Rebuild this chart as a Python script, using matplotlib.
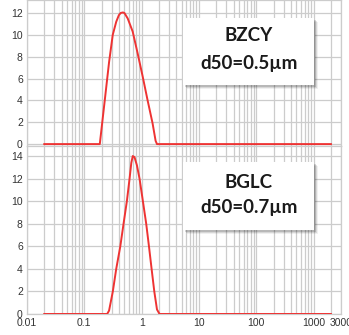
import matplotlib
matplotlib.use("Agg")
import matplotlib.pyplot as plt
import matplotlib.patheffects as pe
from matplotlib.patches import Rectangle
from matplotlib.ticker import LogLocator, FixedLocator, NullFormatter

# particle size distributions (size in um, volume %)
bzcy_size = [0.02, 0.186, 0.227, 0.27, 0.313, 0.36, 0.40, 0.43, 0.47, 0.50,
             0.571, 0.697, 0.851, 1.04, 1.27, 1.55, 1.75, 1.85, 2000]
bzcy_vol = [0, 0, 4.0, 7.5, 10.0, 11.2, 11.8, 12.0, 12.05, 12.0,
            11.5, 10.3, 8.3, 6.2, 4.0, 1.9, 0.3, 0, 0]

bglc_size = [0.02, 0.25, 0.27, 0.314, 0.36, 0.424, 0.483, 0.552, 0.615, 0.66,
             0.70, 0.75, 0.824, 0.918, 1.05, 1.20, 1.34, 1.49, 1.66, 1.85,
             2.05, 2000]
bglc_vol = [0, 0, 0.3, 2, 4, 6, 8, 10, 12, 13.4,
            14, 13.9, 13.2, 12, 10, 8, 6, 4, 2, 0.4,
            0, 0]

xtick_vals = [0.01, 0.1, 1, 10, 100, 1000, 3000]
xtick_labels = ["0.01", "0.1", "1", "10", "100", "1000", "3000"]

GRID = "#cccccc"
RED = "#ee3333"
TICKFONT = ["Liberation Sans Narrow", "Liberation Sans", "DejaVu Sans"]

fig = plt.figure(figsize=(3.49, 3.35), dpi=100)
ax_top = fig.add_axes([0.0774, 0.564, 0.8997, 0.436])
ax_bot = fig.add_axes([0.0774, 0.0627, 0.8997, 0.5015])

# (axes, size, vol, yticks, ylim, box bounds in axes fraction, title, d50, text y's)
panels = [
    (ax_top, bzcy_size, bzcy_vol, range(0, 13, 2), (-0.18, 13.19),
     (0.497, 1 - 85 / 146, 0.418, 67 / 146), "BZCY", "d50=0.5\u00b5m",
     (1 - 35 / 146, 1 - 63 / 146)),
    (ax_bot, bglc_size, bglc_vol, range(0, 15, 2), (0, 14.89),
     (0.497, 1 - 84 / 168, 0.418, 68 / 168), "BGLC", "d50=0.7\u00b5m",
     (1 - 37 / 168, 1 - 62 / 168)),
]

for ax, size, vol, yt, ylim, bounds, name, d50, ty in panels:
    ax.plot(size, vol, color=RED, lw=1.4, zorder=3)
    ax.set_xscale("log")
    ax.set_xlim(0.01, 3000)
    ax.set_ylim(*ylim)
    ax.xaxis.set_major_locator(FixedLocator(xtick_vals))
    ax.xaxis.set_minor_locator(LogLocator(base=10, subs=range(2, 10), numticks=20))
    ax.xaxis.set_minor_formatter(NullFormatter())
    ax.set_yticks(list(yt))
    ax.grid(True, which="both", axis="x", color=GRID, lw=0.9)
    ax.grid(True, which="major", axis="y", color=GRID, lw=0.9)
    ax.tick_params(which="both", length=0, labelsize=7.5, colors="#333333", pad=3)
    for lab in ax.get_yticklabels():
        lab.set_family(TICKFONT)
    for s in ax.spines.values():
        s.set_color(GRID)
        s.set_linewidth(0.9)

    box = Rectangle(bounds[:2], bounds[2], bounds[3], transform=ax.transAxes,
                    facecolor="white", edgecolor="none", zorder=5)
    box.set_path_effects([
        pe.withSimplePatchShadow(offset=(2.6, -2.6), shadow_rgbFace="black", alpha=0.06),
        pe.withSimplePatchShadow(offset=(1.9, -1.9), shadow_rgbFace="black", alpha=0.1),
        pe.withSimplePatchShadow(offset=(1.2, -1.2), shadow_rgbFace="black", alpha=0.14),
        pe.Normal()])
    ax.add_patch(box)
    cx = bounds[0] + bounds[2] / 2
    for txt, y in zip((name, d50), ty):
        ax.text(cx, y, txt, transform=ax.transAxes, ha="center", va="center",
                fontsize=13.5, fontweight="bold", family="Lato",
                color="#1a1a1a", zorder=6)

ax_top.set_xticklabels([])
ax_bot.set_xticklabels(xtick_labels)
for lab in ax_bot.get_xticklabels():
    lab.set_family(TICKFONT)

fig.savefig("out.png", dpi=100)
